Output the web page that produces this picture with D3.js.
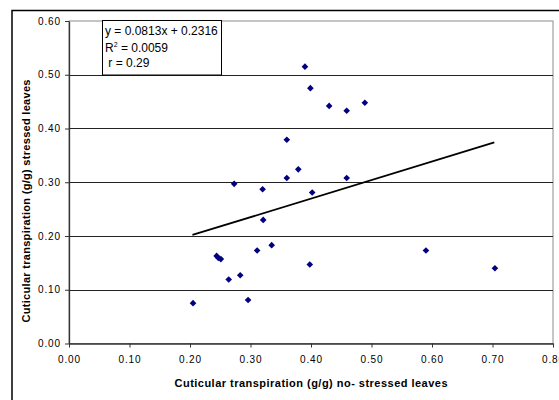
<!DOCTYPE html>
<html>
<head>
<meta charset="utf-8">
<script src="https://cdn.jsdelivr.net/npm/d3@7"></script>
<style>
  body { margin: 0; background: #fff; }
  svg { display: block; font-family: "Liberation Sans", Arial, sans-serif; }
</style>
</head>
<body>
<div class="chart"></div>
<script>
// values
const noStressed = [0.390, 0.399, 0.430, 0.459, 0.489, 0.360, 0.379, 0.360, 0.459, 0.273,
                    0.320, 0.402, 0.321, 0.205, 0.244, 0.247, 0.251, 0.264, 0.283, 0.296,
                    0.311, 0.335, 0.398, 0.590, 0.704];
const stressed   = [0.515, 0.475, 0.442, 0.433, 0.448, 0.379, 0.324, 0.308, 0.308, 0.297,
                    0.287, 0.281, 0.230, 0.075, 0.163, 0.159, 0.157, 0.119, 0.127, 0.081,
                    0.173, 0.183, 0.147, 0.173, 0.140];
const trendX = [0.204, 0.703];
const trendY = [0.202, 0.374];
const xTicks = [0, 0.1, 0.2, 0.3, 0.4, 0.5, 0.6, 0.7, 0.8];
const yTicks = [0, 0.1, 0.2, 0.3, 0.4, 0.5, 0.6];
const eqLines = ["y = 0.0813x + 0.2316", "R", " r = 0.29"];

const width = 559, height = 400;

const svg = d3.select(".chart").append("svg")
  .attr("width", width)
  .attr("height", height);

// chart area frame (runs past the window)
svg.append("rect")
  .attr("x", 12).attr("y", 10.5)
  .attr("width", 620).attr("height", 420)
  .attr("fill", "#fff")
  .attr("stroke", "#000")
  .attr("stroke-width", 1.5);

const x = d3.scaleLinear().domain([0, 0.8]).range([69, 553]);
const y = d3.scaleLinear().domain([0, 0.6]).range([343.5, 21]);

// plot area border
svg.append("rect")
  .attr("x", x(0)).attr("y", y(0.6))
  .attr("width", x(0.8) - x(0)).attr("height", y(0) - y(0.6))
  .attr("fill", "none")
  .attr("stroke", "#8c8c8c")
  .attr("stroke-width", 1);

// gridlines
svg.append("g").selectAll("line")
  .data(yTicks.filter(d => d > 0 && d < 0.6))
  .enter().append("line")
  .attr("x1", x(0)).attr("x2", x(0.8))
  .attr("y1", d => Math.round(y(d)) + 0.5)
  .attr("y2", d => Math.round(y(d)) + 0.5)
  .attr("stroke", "#222")
  .attr("stroke-width", 1);

// axes
const xAxis = svg.append("g")
  .attr("transform", "translate(0," + y(0) + ")")
  .call(d3.axisBottom(x).tickValues(xTicks).tickFormat(d3.format(".2f"))
        .tickSizeInner(4).tickSizeOuter(0).tickPadding(8));

const yAxis = svg.append("g")
  .attr("transform", "translate(" + x(0) + ",0)")
  .call(d3.axisLeft(y).tickValues(yTicks).tickFormat(d3.format(".2f"))
        .tickSizeInner(4).tickSizeOuter(0).tickPadding(4));

[xAxis, yAxis].forEach(a => {
  a.select(".domain").attr("stroke", "#333").attr("stroke-width", 1.3);
  a.selectAll(".tick line").attr("stroke", "#333");
  a.selectAll(".tick text")
    .attr("fill", "#000")
    .style("font-family", "Liberation Sans, Arial, sans-serif")
    .style("font-size", "10px")
    .style("letter-spacing", "0.9px");
});

// trend line
svg.append("path")
  .datum(d3.zip(trendX, trendY))
  .attr("d", d3.line().x(d => x(d[0])).y(d => y(d[1])))
  .attr("stroke", "#000")
  .attr("stroke-width", 1.8)
  .attr("fill", "none");

// points
svg.append("g").selectAll("path")
  .data(d3.zip(noStressed, stressed))
  .enter().append("path")
  .attr("d", d3.symbol().type(d3.symbolSquare).size(22))
  .attr("transform", d => "translate(" + x(d[0]) + "," + y(d[1]) + ") rotate(45)")
  .attr("fill", "#000080");

// equation box
const box = svg.append("g");
box.append("rect")
  .attr("x", 102.5).attr("y", 20.5)
  .attr("width", 119).attr("height", 54.5)
  .attr("fill", "#fff")
  .attr("stroke", "#000")
  .attr("stroke-width", 1);

box.append("text")
  .attr("x", 105).attr("y", 35)
  .style("font-size", "12px")
  .text(eqLines[0]);

const r2 = box.append("text")
  .attr("x", 105).attr("y", 51.5)
  .style("font-size", "12px");
r2.append("tspan").text(eqLines[1]);
r2.append("tspan").attr("dy", -5).style("font-size", "7px").text("2");
r2.append("tspan").attr("dy", 5).text(" = 0.0059");

box.append("text")
  .attr("x", 105).attr("y", 67)
  .attr("xml:space", "preserve")
  .style("white-space", "pre")
  .style("font-size", "12px")
  .text(eqLines[2]);

// axis titles
svg.append("text")
  .attr("x", 311).attr("y", 387)
  .attr("text-anchor", "middle")
  .style("font-size", "11px")
  .style("font-weight", "bold")
  .attr("textLength", 273)
  .attr("lengthAdjust", "spacing")
  .text("Cuticular transpiration (g/g) no- stressed leaves");

svg.append("text")
  .attr("transform", "translate(30,201) rotate(-90)")
  .attr("text-anchor", "middle")
  .style("font-size", "11px")
  .style("font-weight", "bold")
  .attr("textLength", 243)
  .attr("lengthAdjust", "spacing")
  .text("Cuticular transpiration (g/g) stressed leaves");
</script>
</body>
</html>
